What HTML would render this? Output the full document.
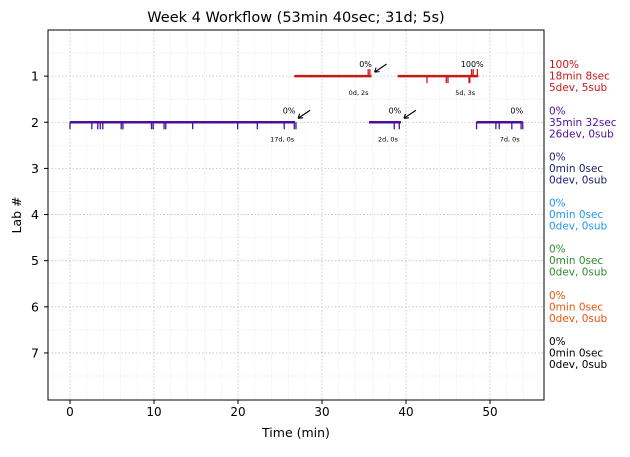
<!DOCTYPE html>
<html><head><meta charset="utf-8"><style>
body{margin:0;background:#fff;font-family:"DejaVu Sans","Liberation Sans",sans-serif}
svg text{font-family:"DejaVu Sans","Liberation Sans",sans-serif}
</style></head><body>
<svg id="c" width="630" height="453" viewBox="0 0 630 453" xmlns="http://www.w3.org/2000/svg"></svg>
<script>
const labs=[1,2,3,4,5,6,7];
const labColors=['#c8191a','#4b0f9e','#1b1d6e','#2196f3','#2e8b2e','#e8560c','#000000'];
const labSummary=[['100%','18min 8sec','5dev, 5sub'],['0%','35min 32sec','26dev, 0sub'],['0%','0min 0sec','0dev, 0sub'],['0%','0min 0sec','0dev, 0sub'],['0%','0min 0sec','0dev, 0sub'],['0%','0min 0sec','0dev, 0sub'],['0%','0min 0sec','0dev, 0sub']];
const segLab=[1,1,2,2,2];
const segStart=[26.7,39.0,0,35.6,48.4];
const segEnd=[35.9,48.6,26.8,39.4,53.9];
const segPct=['0%','100%','0%','0%','0%'];
const segNote=['0d, 2s','5d, 3s','17d, 0s','2d, 0s','7d, 0s'];
const segArrow=[true,false,true,true,false];
const downLab=[1,1,1,1,1,2,2,2,2,2,2,2,2,2,2,2,2,2,2,2,2,2,2,2,2,2,2,2,2,2];
const downTime=[42.5,44.8,45.0,47.5,47.6,0,2.6,3.3,3.6,3.9,6.1,6.3,9.7,9.9,11.2,11.4,14.6,19.96,22.3,25.5,26.7,26.9,38.6,39.2,50.7,51.1,52.6,53.7,53.9,48.4];
const upLab=[1,1,1,1,1];
const upTime=[35.5,35.7,47.8,48.0,48.5];
const xTicks=[0,10,20,30,40,50];

const svg=document.getElementById('c');const NS='http://www.w3.org/2000/svg';
const L=48,R=544,T=30,B=400,xmin=-2.62,xmax=56.43,ymin=0,ymax=8.02;
const X=v=>L+(v-xmin)/(xmax-xmin)*(R-L);
const Y=v=>T+(v-ymin)/(ymax-ymin)*(B-T);
function mk(t,a,p){const e=document.createElementNS(NS,t);for(const k in a)e.setAttribute(k,a[k]);(p||svg).appendChild(e);return e;}
let e;
for(let v=-2;v<=56;v+=2){if(v%10===0)continue;e=mk('line',{x1:X(v),x2:X(v),y1:T,y2:B,stroke:'#f0f0f0','stroke-width':0.6});
}
for(let v=0.5;v<8;v+=0.5){if(v%1===0)continue;e=mk('line',{x1:L,x2:R,y1:Y(v),y2:Y(v),stroke:'#f0f0f0','stroke-width':0.6});
}
xTicks.forEach(v=>{e=mk('line',{x1:X(v),x2:X(v),y1:T,y2:B,stroke:'#c0c0c0','stroke-dasharray':'1.5,2','stroke-width':0.8});

e=mk('line',{x1:X(v),x2:X(v),y1:B,y2:B+4,stroke:'#000'});

e=mk('text',{x:X(v),y:B+16,'text-anchor':'middle','font-size':12});e.textContent=v;
});
labs.forEach(v=>{e=mk('line',{x1:L,x2:R,y1:Y(v),y2:Y(v),stroke:'#c0c0c0','stroke-dasharray':'1.5,2','stroke-width':0.8});

e=mk('line',{x1:L-4,x2:L,y1:Y(v),y2:Y(v),stroke:'#000'});

e=mk('text',{x:L-9,y:Y(v)+4.5,'text-anchor':'end','font-size':12.5});e.textContent=v;
});
segLab.forEach((lab,i)=>{const c=labColors[lab-1],y=Y(lab);
e=mk('line',{x1:X(segStart[i]),x2:X(segEnd[i]),y1:y,y2:y,stroke:c,'stroke-width':2.5});

e=mk('text',{x:X(segEnd[i])-6,y:y-9,'text-anchor':'middle','font-size':8});e.textContent=segPct[i];

e=mk('text',{x:X(segEnd[i])-13,y:y+19,'text-anchor':'middle','font-size':6.5});e.textContent=segNote[i];

if(segArrow[i]){const ax=X(segEnd[i])+3,ay=y-4;
e=mk('path',{d:`M${ax+12},${ay-8} L${ax},${ay} M${ax},${ay} l5,-0.5 M${ax},${ay} l1.5,-4.5`,stroke:'#000','stroke-width':1.1,fill:'none'});
}});
downTime.forEach((t,i)=>{const lab=downLab[i];
e=mk('line',{x1:X(t),x2:X(t),y1:Y(lab),y2:Y(lab)+7,stroke:labColors[lab-1],'stroke-width':1.3});
});
upTime.forEach((t,i)=>{const lab=upLab[i];
e=mk('line',{x1:X(t),x2:X(t),y1:Y(lab),y2:Y(lab)-7,stroke:labColors[lab-1],'stroke-width':1.3});
});
e=mk('rect',{x:L,y:T,width:R-L,height:B-T,fill:'none',stroke:'#000','stroke-width':1});

e=mk('text',{x:296,y:22,'text-anchor':'middle','font-size':14.5});e.textContent='Week 4 Workflow (53min 40sec; 31d; 5s)';

e=mk('text',{x:296,y:437,'text-anchor':'middle','font-size':12.5});e.textContent='Time (min)';

e=mk('text',{x:21,y:215,'text-anchor':'middle','font-size':12.5,transform:'rotate(-90 21 215)'});e.textContent='Lab #';

labs.forEach((v,i)=>{labSummary[i].forEach((s,j)=>{
e=mk('text',{x:549,y:Y(v)-8+j*11.5,'font-size':10.5,fill:labColors[i]});e.textContent=s;
});});
</script>
</body></html>
